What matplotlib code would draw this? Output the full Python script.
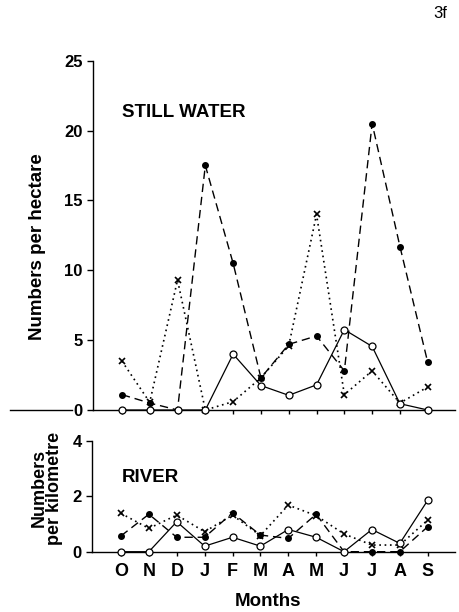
import matplotlib
matplotlib.use("Agg")
import matplotlib.pyplot as plt
from matplotlib.lines import Line2D

plt.rcParams['font.family'] = ['Liberation Sans', 'DejaVu Sans']

months = ["O", "N", "D", "J", "F", "M", "A", "M", "J", "J", "A", "S"]

# Still water (numbers per hectare)
still_filled = [1.1, 0.5, 0.0, 17.5, 10.5, 2.3, 4.7, 5.3, 2.8, 20.5, 11.7, 3.4]
still_open = [0.0, 0.0, 0.0, 0.0, 4.0, 1.75, 1.05, 1.8, 5.75, 4.55, 0.45, 0.0]
still_cross = [3.5, 0.55, 9.3, 0.0, 0.6, 2.3, 4.6, 14.0, 1.1, 2.8, 0.5, 1.65]

# River (numbers per kilometre)
river_filled = [0.57, 1.35, 0.52, 0.52, 1.4, 0.6, 0.48, 1.35, 0.0, 0.0, 0.0, 0.9]
river_open = [0.0, 0.0, 1.08, 0.2, 0.52, 0.2, 0.8, 0.52, 0.0, 0.8, 0.3, 1.85]
river_cross = [1.38, 0.84, 1.32, 0.72, 1.32, 0.58, 1.68, 1.3, 0.64, 0.24, 0.24, 1.14]

W, H = 459, 612
fig = plt.figure(figsize=(W / 100, H / 100), dpi=100)

def fx(px):
    return px / W

def fy(py):
    return 1 - py / H

x = list(range(len(months)))
xlim = (-1.04, 11.98)

def style_ax(ax):
    for s in ("top", "right"):
        ax.spines[s].set_visible(False)
    for s in ("left", "bottom"):
        ax.spines[s].set_linewidth(1.0)
    ax.set_xlim(*xlim)
    ax.tick_params(axis="both", direction="out", length=4, width=1.0,
                   labelsize=12)
    for lab in ax.get_yticklabels() + ax.get_xticklabels():
        lab.set_fontweight("bold")

def draw_series(ax, filled, opn, cross):
    ax.plot(x, filled, color="black", lw=1.0, ls=(0, (6, 3.5)),
            marker="o", ms=4, mfc="black", mec="black", clip_on=False, zorder=3)
    ax.plot(x, opn, color="black", lw=0.9, ls="-",
            marker="o", ms=5, mfc="white", mec="black", mew=0.9,
            clip_on=False, zorder=4)
    ax.plot(x, cross, color="black", lw=1.2, ls=(0, (1, 2.2)),
            marker="x", ms=4, mew=1.2, mec="black", clip_on=False, zorder=3)

# Top panel
ax1 = fig.add_axes([fx(93), fy(410), fx(455) - fx(93), fy(60.7) - fy(410)])
draw_series(ax1, still_filled, still_open, still_cross)
ax1.set_ylim(0, 25)
ax1.set_yticks([0, 5, 10, 15, 20, 25])
ax1.set_xticks(x)
ax1.set_xticklabels([])
style_ax(ax1)
ax1.tick_params(axis="x", length=3)
ax1.set_ylabel("Numbers per hectare", fontsize=13.5, fontweight="bold")
ax1.yaxis.set_label_coords(fx(46 - 93) / (fx(455) - fx(93)), 0.468)
ax1.text(fx(122 - 93) / (fx(455) - fx(93)), (410 - 113) / 349.3, "STILL WATER",
         transform=ax1.transAxes, fontsize=13.5, fontweight="bold",
         va="center", ha="left")
# extended baseline to the left
fig.add_artist(Line2D([fx(10), fx(72)], [fy(410), fy(410)],
                      color="black", lw=1.0))

# Bottom panel
ax2 = fig.add_axes([fx(92), fy(551.7), fx(455) - fx(92), fy(440.7) - fy(551.7)])
draw_series(ax2, river_filled, river_open, river_cross)
ax2.set_ylim(0, 4)
ax2.set_yticks([0, 2, 4])
ax2.set_xticks(x)
ax2.set_xticklabels(months)
style_ax(ax2)
ax2.tick_params(axis="x", length=3, pad=5, labelsize=13)
for lab in ax2.get_xticklabels():
    lab.set_fontweight("bold")
ax2.set_ylabel("Numbers\nper kilometre", fontsize=13, fontweight="bold",
               linespacing=0.85)
ax2.yaxis.set_label_coords(fx(63 - 92) / (fx(455) - fx(92)), 0.57)
ax2.text(fx(122 - 92) / (fx(455) - fx(92)), (551.7 - 478) / 111, "RIVER",
         transform=ax2.transAxes, fontsize=13.5, fontweight="bold",
         va="center", ha="left")

fig.text(fx(268), fy(602), "Months", fontsize=13.5, fontweight="bold",
         ha="center", va="center")
fig.text(fx(440), fy(13), "3f", fontsize=12, ha="center", va="center")

fig.savefig("out.png", dpi=100)
